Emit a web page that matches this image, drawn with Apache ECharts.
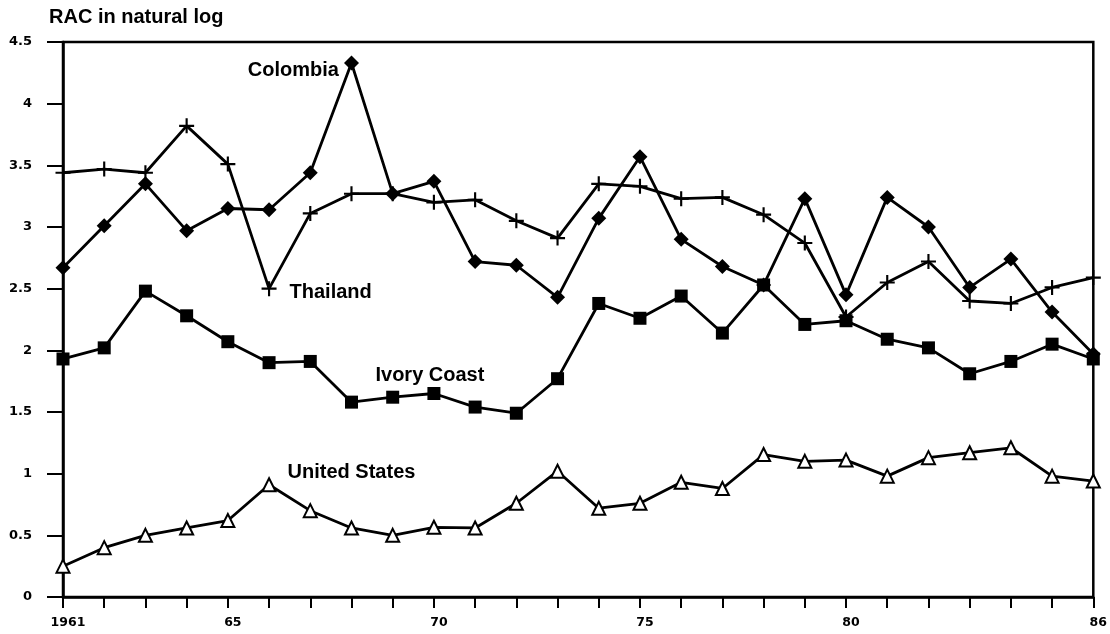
<!DOCTYPE html>
<html>
<head>
<meta charset="utf-8">
<script src="https://cdn.jsdelivr.net/npm/echarts@6/dist/echarts.min.js"></script>
<style>
  html, body { margin: 0; padding: 0; background: #fff; }
  #chart { width: 1110px; height: 634px; }
</style>
</head>
<body>
<div id="chart"></div>
<script>
// Years 1961-1986
const years = ['1961','1962','1963','1964','1965','1966','1967','1968','1969','1970',
  '1971','1972','1973','1974','1975','1976','1977','1978','1979','1980',
  '1981','1982','1983','1984','1985','1986'];
// Labels shown under the x axis
const xTickLabels = { '1961': '1961', '1965': '65', '1970': '70', '1975': '75', '1980': '80', '1986': '86' };

// RAC in natural log, by country
const colombia = [2.67, 3.01, 3.35, 2.97, 3.15, 3.14, 3.44, 4.33, 3.27, 3.37,
  2.72, 2.69, 2.43, 3.07, 3.57, 2.90, 2.68, 2.53, 3.23, 2.45,
  3.24, 3.00, 2.51, 2.74, 2.31, 1.97];
const thailand = [3.44, 3.47, 3.44, 3.82, 3.51, 2.50, 3.11, 3.27, 3.27, 3.20,
  3.22, 3.05, 2.91, 3.35, 3.33, 3.23, 3.24, 3.10, 2.87, 2.27,
  2.55, 2.72, 2.40, 2.38, 2.51, 2.59];
const ivoryCoast = [1.93, 2.02, 2.48, 2.28, 2.07, 1.90, 1.91, 1.58, 1.62, 1.65,
  1.54, 1.49, 1.77, 2.38, 2.26, 2.44, 2.14, 2.53, 2.21, 2.24,
  2.09, 2.02, 1.81, 1.91, 2.05, 1.93];
const unitedStates = [0.25, 0.40, 0.50, 0.56, 0.62, 0.91, 0.70, 0.56, 0.50, 0.565,
  0.56, 0.76, 1.02, 0.72, 0.76, 0.93, 0.88, 1.155, 1.10, 1.11,
  0.98, 1.13, 1.17, 1.21, 0.98, 0.94];

const FONT = '"Liberation Sans", Arial, Helvetica, sans-serif';
const TICK_FONT = '"DejaVu Sans", sans-serif';
const nameFont = { color: '#000', fontFamily: FONT, fontWeight: 'bold', fontSize: 20 };

const plusPath = 'path://M-1,-7 L1,-7 L1,-1 L7,-1 L7,1 L1,1 L1,7 L-1,7 L-1,1 L-7,1 L-7,-1 L-1,-1 Z';

// Put the country name beside one point of its line
function withName(name, values, index, labelOpts) {
  return values.map((v, i) => i === index
    ? { value: v, label: Object.assign({ show: true, formatter: name }, nameFont, labelOpts) }
    : v);
}

function lineSeries(name, data, symbol, size, itemStyle) {
  return {
    name, type: 'line', data, symbol, symbolSize: size,
    showAllSymbol: true,
    lineStyle: { color: '#000', width: 2.8 },
    itemStyle: Object.assign({ color: '#000' }, itemStyle),
    label: { show: false },
    emphasis: { disabled: true },
    z: 3, animation: false
  };
}

const chart = echarts.init(document.getElementById('chart'));
chart.setOption({
  backgroundColor: '#fff',
  animation: false,
  grid: { left: 63, right: 12, top: 42, bottom: 37, show: true, borderColor: '#000', borderWidth: 2.5 },
  graphic: [{
    type: 'text', left: 49, top: 7,
    style: { text: 'RAC in natural log', fill: '#000', font: 'bold 20px ' + FONT }
  }],
  xAxis: {
    type: 'category', data: years, boundaryGap: false,
    axisLine: { lineStyle: { color: '#000', width: 2.5 } },
    axisTick: { show: true, interval: 0, length: 11, lineStyle: { color: '#000', width: 2 } },
    axisLabel: {
      interval: (i, v) => xTickLabels[v] !== undefined,
      formatter: v => xTickLabels[v] || '',
      color: '#000', fontFamily: TICK_FONT, fontWeight: 'bold', fontSize: 12.5, margin: 19,
      padding: [0, 0, 0, 10],
      showMinLabel: true, showMaxLabel: true
    },
    splitLine: { show: false }
  },
  yAxis: {
    type: 'value', min: 0, max: 4.5, interval: 0.5,
    axisLine: { show: true, lineStyle: { color: '#000', width: 2.5 } },
    axisTick: { show: true, length: 16, lineStyle: { color: '#000', width: 2 } },
    axisLabel: {
      formatter: v => String(v),
      color: '#000', fontFamily: TICK_FONT, fontWeight: 'bold', fontSize: 13, margin: 31
    },
    splitLine: { show: false }
  },
  series: [
    lineSeries('Colombia', withName('Colombia', colombia, 7, { position: 'left', distance: 5, offset: [0, 8] }), 'diamond', 15),
    lineSeries('Thailand', withName('Thailand', thailand, 5, { position: 'right', distance: 13, offset: [0, 4] }), plusPath, 15),
    lineSeries('Ivory Coast', withName('Ivory Coast', ivoryCoast, 9, { position: 'top', distance: 2, offset: [-4, 0] }), 'rect', 13),
    lineSeries('United States', withName('United States', unitedStates, 7, { position: 'top', distance: 38 }), 'triangle', 13,
      { color: '#fff', borderColor: '#000', borderWidth: 2 })
  ]
});
</script>
</body>
</html>
